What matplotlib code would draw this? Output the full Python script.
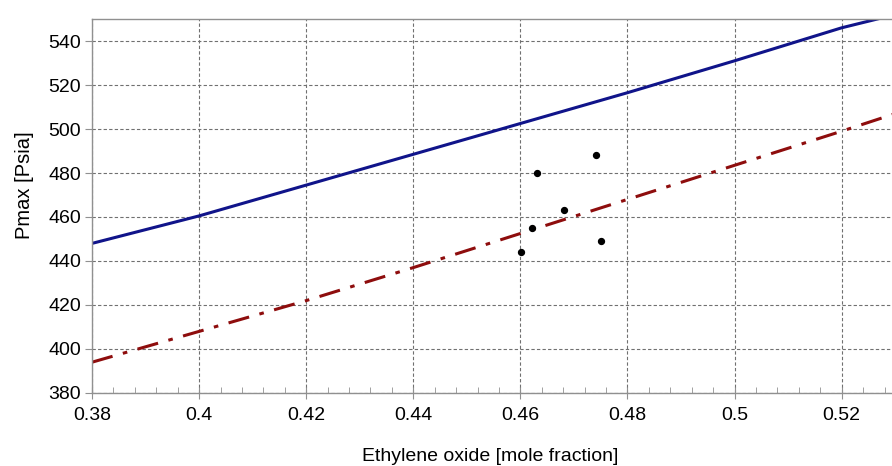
import numpy as np
import matplotlib.pyplot as plt
from matplotlib.ticker import MultipleLocator

plt.rcParams['font.family'] = ['Liberation Sans', 'DejaVu Sans']

# Upper curve (solid blue)
x_upper = [0.38, 0.40, 0.42, 0.44, 0.46, 0.48, 0.50, 0.52, 0.53]
y_upper = [448, 460.5, 474.5, 488.5, 502.5, 516.5, 531, 546, 552]

# Lower curve (dash-dot red)
x_lower = [0.38, 0.40, 0.42, 0.44, 0.46, 0.48, 0.50, 0.52, 0.53]
y_lower = [394, 408, 422, 437, 452.5, 468, 483.5, 499, 507]

# Measured points
x_pts = [0.4601, 0.4621, 0.4631, 0.4681, 0.4741, 0.4751]
y_pts = [444, 455, 480, 463, 488, 449]

fig = plt.figure(figsize=(8.92, 4.66), dpi=100)
ax = fig.add_axes([92 / 892, 73 / 466, 800 / 892, 374 / 466])

ax.plot(x_upper, y_upper, color='#10148a', lw=2.2, solid_capstyle='butt')
ax.plot(x_lower, y_lower, color='#8e0d0d', lw=2.2, dashes=(7, 3.5, 1.5, 3.5))
ax.scatter(x_pts, y_pts, s=18, color='black', zorder=5)

ax.set_xlim(0.38, 0.5294)
ax.set_ylim(380, 550)
ax.set_xticks([0.38, 0.40, 0.42, 0.44, 0.46, 0.48, 0.50, 0.52])
ax.set_xticklabels(['0.38', '0.4', '0.42', '0.44', '0.46', '0.48', '0.5', '0.52'])
ax.set_yticks(np.arange(380, 541, 20))
ax.xaxis.set_minor_locator(MultipleLocator(0.004))

ax.grid(True, which='major', color='#707070', linestyle=(0, (3, 2)), linewidth=0.8)
ax.set_axisbelow(True)

for s in ax.spines.values():
    s.set_color('#909090')
    s.set_linewidth(1.0)
ax.spines['right'].set_visible(False)

ax.tick_params(axis='x', which='major', direction='inout', length=8, color='#909090',
               labelsize=14, pad=6)
ax.tick_params(axis='x', which='minor', direction='in', length=4, color='#909090')
ax.tick_params(axis='y', which='major', direction='out', length=5, color='#909090',
               labelsize=14, pad=3)

ax.set_xlabel('Ethylene oxide [mole fraction]', fontsize=14)
ax.xaxis.set_label_coords(0.4975, -0.148)
ax.set_ylabel('Pmax [Psia]', fontsize=14.5)
ax.yaxis.set_label_coords(-0.073, 0.556)

fig.savefig('out.png', dpi=100)
